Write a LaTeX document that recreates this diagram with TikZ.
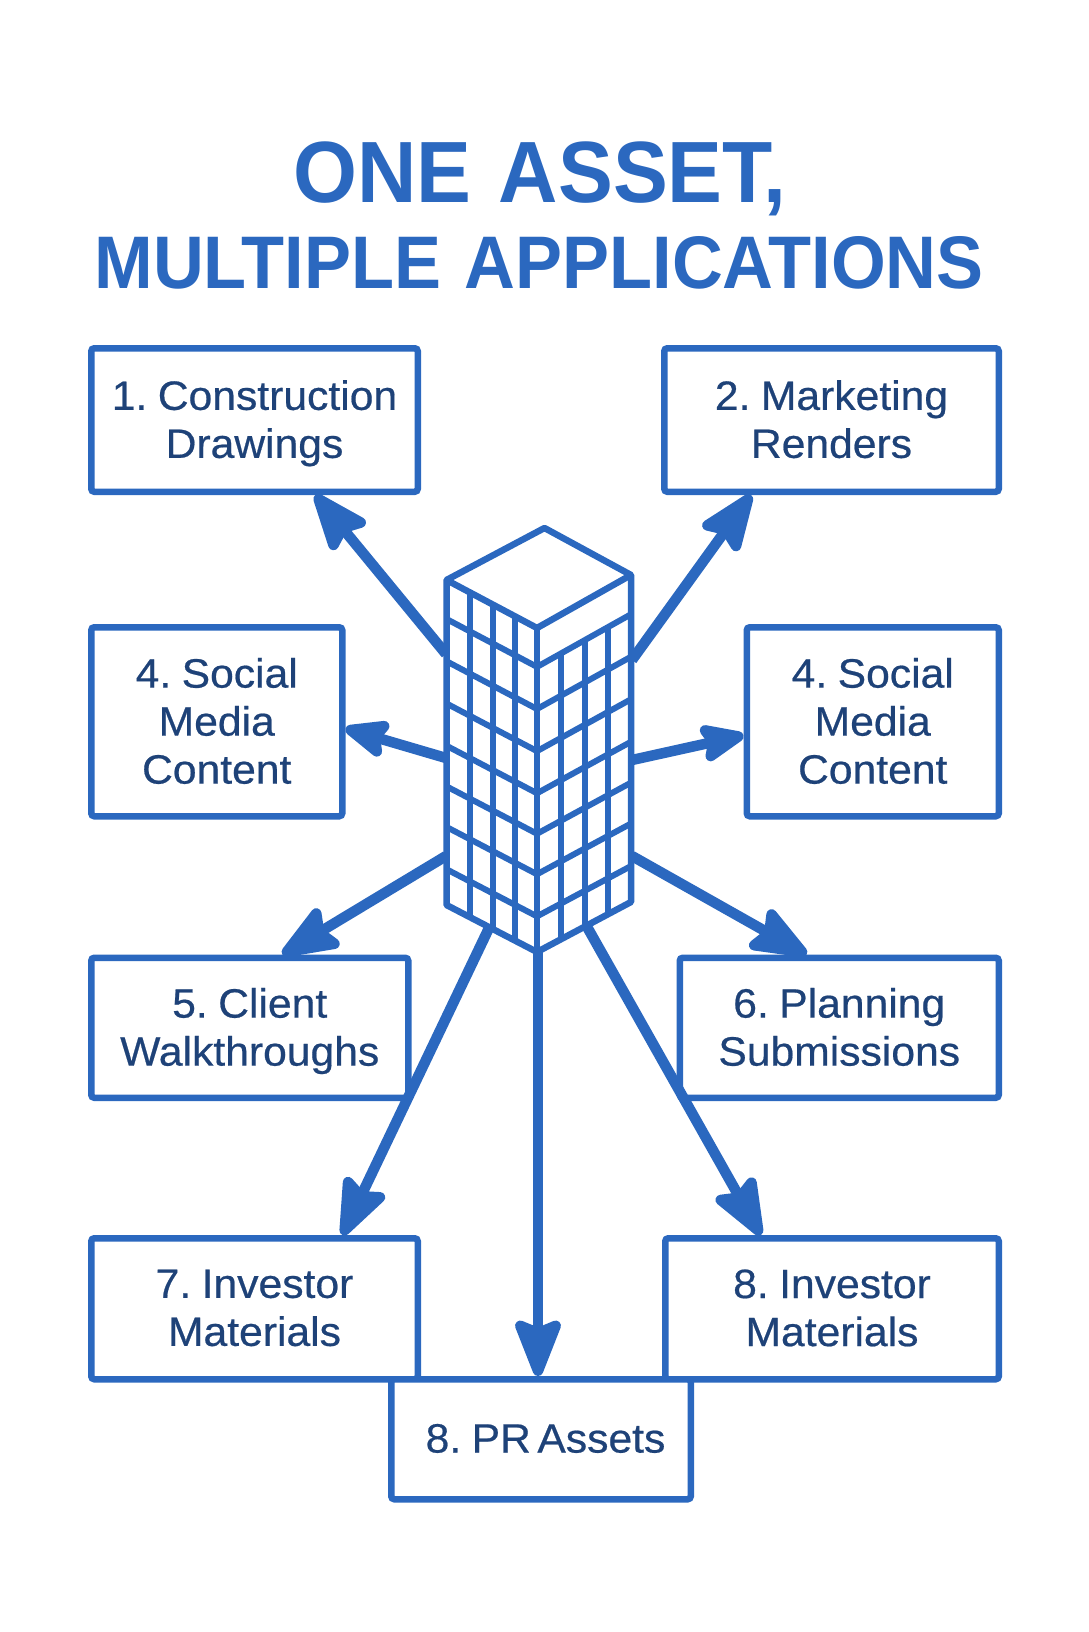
\documentclass[tikz,border=0pt]{standalone}
\usepackage{fontspec}
\usepackage{xcolor}
\usepackage{tikz}
\usetikzlibrary{positioning,arrows.meta,calc}
\setmainfont[WordSpace=0.55,FakeBold=0.5,FakeStretch=1.04]{Liberation Sans}
\newfontfamily\titlefont[WordSpace=1.2,FakeStretch=.945]{Liberation Sans Bold}
\definecolor{navy}{HTML}{1E4278}
\definecolor{blue}{HTML}{2B68BF}
\tikzset{
  appbox/.style={rounded corners=3pt,draw=blue,line width=6.5pt,fill=white,align=center,inner sep=0pt,text=navy,text depth=2pt,font=\fontsize{41}{48}\selectfont},
  titletext/.style={anchor=base,text=blue,inner sep=0pt},
  arrow/.style={-{Stealth[length=68pt,width=52pt,inset=10pt,round]},draw=blue,line width=10.5pt},
  sidearrow/.style={arrow,-{Stealth[length=54pt,width=44pt,inset=9pt,round]}},
  outline/.style={draw=blue,line width=6.5pt,line join=round},
  gridline/.style={draw=blue,line width=6pt}
}
\begin{document}
\begin{tikzpicture}[x=1pt,y=-1pt]
  \useasboundingbox (0,0) rectangle (1088,1632);
  \node[titletext,font=\titlefont\fontsize{87}{90}\selectfont] (titletop) at (540,203) {ONE ASSET,};
  \node[titletext,font=\titlefont\fontsize{74.5}{76}\selectfont] (titlelow) at ([yshift=-85pt,xshift=-1pt]titletop.base) {MULTIPLE APPLICATIONS};
  % boxes, rows down the page
  \node[appbox,minimum width=326.5pt,minimum height=143.5pt] (construction) at (254.5,420) {1. Construction\\Drawings};
  \node[appbox,minimum width=334.5pt,minimum height=143.5pt,right=240pt of construction] (marketing) {2. Marketing\\Renders};
  \node[appbox,minimum width=251pt,minimum height=189pt,below=129pt of construction.south west,anchor=north west] (socialleft) {4. Social\\Media\\Content};
  \node[appbox,minimum width=252pt,minimum height=189pt,below=129pt of marketing.south east,anchor=north east] (socialright) {4. Social\\Media\\Content};
  \node[appbox,minimum width=317pt,minimum height=140pt,below=135pt of socialleft.south west,anchor=north west] (client) {5. Client\\Walkthroughs};
  \node[appbox,minimum width=319pt,minimum height=140pt,below=135pt of socialright.south east,anchor=north east] (planning) {6. Planning\\Submissions};
  \node[appbox,minimum width=326.5pt,minimum height=141pt,below=134pt of client.south west,anchor=north west] (investorleft) {7. Investor\\Materials};
  \node[appbox,minimum width=333.5pt,minimum height=141pt,below=134pt of planning.south east,anchor=north east] (investorright) {8. Investor\\Materials};
  \node[appbox,minimum width=299.5pt,minimum height=120pt,below=-6.5pt of investorleft.south east,anchor=north west,xshift=-33pt] (prassets) {\hspace*{9pt}8. PR Assets};
  % tower corners
  \coordinate (apex) at (544.5,528);
  \coordinate (topleft) at (446.5,580);
  \coordinate (topfront) at (537,628);
  \coordinate (topright) at (631,575);
  \coordinate (baseleft) at (446.5,905);
  \coordinate (basefront) at (537,952);
  \coordinate (baseright) at (631,902);
  \foreach \f in {.12,.25,.38,.51,.635,.76,.89} {
    \draw[gridline] ($(topleft)!\f!(baseleft)$) -- ($(topfront)!\f!(basefront)$) -- ($(topright)!\f!(baseright)$);
  }
  \foreach \f in {.26,.51,.76} {
    \draw[gridline] ($(topleft)!\f!(topfront)$) -- ($(baseleft)!\f!(basefront)$);
    \draw[gridline] ($($(topfront)!.12!(basefront)$)!\f!($(topright)!.12!(baseright)$)$) -- ($(basefront)!\f!(baseright)$);
  }
  \draw[outline] (topleft) -- (apex) -- (topright) -- (baseright) -- (basefront) -- (baseleft) -- cycle;
  \draw[outline] (topleft) -- (topfront) -- (topright);
  \draw[outline] (topfront) -- (basefront);
  % arrows leave the tower here
  \coordinate (outconstruction) at (446,654);
  \coordinate (outmarketing) at (632,660);
  \coordinate (outsocialleft) at (446,758);
  \coordinate (outsocialright) at (632,760);
  \coordinate (outclient) at (446,856);
  \coordinate (outplanning) at (632,856);
  \coordinate (outinvestorleft) at (489,928);
  \coordinate (outinvestorright) at (586,925);
  \coordinate (outprassets) at (538,952);
  \draw[arrow] (outconstruction) -- (construction.-51.3);
  \draw[arrow] (outmarketing) -- (marketing.-137);
  \draw[sidearrow] (outsocialleft) -- (socialleft.-3.8);
  \draw[sidearrow] (outsocialright) -- (socialright.186);
  \draw[arrow] (outclient) -- (client.66.3);
  \draw[arrow] (outplanning) -- (planning.114.1);
  \draw[arrow] (outinvestorleft) -- (investorleft.40.2);
  \draw[arrow] (outinvestorright) -- (investorright.134);
  \draw[arrow] (outprassets) -- (outprassets |- prassets.north);
\end{tikzpicture}
\end{document}
